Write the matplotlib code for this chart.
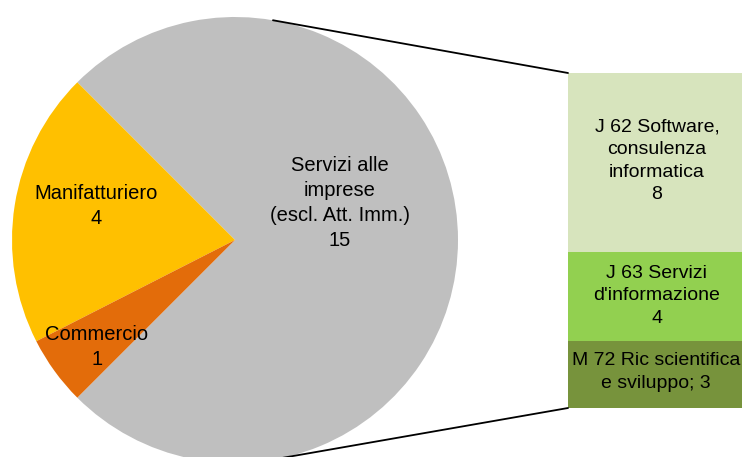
import matplotlib.pyplot as plt
from matplotlib.patches import ConnectionPatch
import numpy as np

plt.rcParams['font.family'] = ['Liberation Sans', 'DejaVu Sans']

# pie data
pie_labels = ["Servizi alle\nimprese\n(escl. Att. Imm.)", "Manifatturiero", "Commercio"]
pie_values = [15, 4, 1]
pie_colors = ["#BFBFBF", "#FFC000", "#E36C0A"]

# bar breakdown of "Servizi alle imprese" (bottom to top)
bar_labels = ["M 72 Ric scientifica\ne sviluppo; 3", "J 63 Servizi\nd'informazione\n4", "J 62 Software,\nconsulenza\ninformatica\n8"]
bar_values = [3, 4, 8]
bar_colors = ["#77933C", "#92D050", "#D7E4BD"]

W, H = 742, 457
fig = plt.figure(figsize=(W / 100, H / 100), dpi=100)

# pie: center (235, 240) px, radius 223 px
cx, cy, r = 235, 240, 223
ax_pie = fig.add_axes([(cx - r) / W, (H - cy - r) / H, 2 * r / W, 2 * r / H])
wedges, _ = ax_pie.pie(pie_values, colors=pie_colors, startangle=-135,
                       counterclock=True, radius=1)
ax_pie.set_xlim(-1, 1)
ax_pie.set_ylim(-1, 1)
ax_pie.set_axis_off()

def pie_xy(px, py):
    return (px - cx) / r, (cy - py) / r

label_pos = [(340, 203), (96, 206), (97, 347)]
for lab, v, (px, py) in zip(pie_labels, pie_values, label_pos):
    ax_pie.text(*pie_xy(px, py), f"{lab}\n{v}", ha="center", va="center",
                fontsize=14.5, linespacing=1.42)

# bar
bx0, bx1, by0, by1 = 568, 742, 408, 73
ax_bar = fig.add_axes([bx0 / W, (H - by0) / H, (bx1 - bx0) / W, (by0 - by1) / H])
bottom = 0
for lab, v, c in zip(bar_labels, bar_values, bar_colors):
    ax_bar.bar(0, v, width=1, bottom=bottom, color=c)
    bottom += v
ax_bar.set_xlim(-0.5, 0.5)
ax_bar.set_ylim(0, sum(bar_values))
ax_bar.set_axis_off()

def bar_xy(px, py):
    return (px - bx0) / (bx1 - bx0) - 0.5, (by0 - py) / (by0 - by1) * sum(bar_values)

bar_pos = [(656, 372), (657, 296), (657, 161)]
for lab, (px, py) in zip(bar_labels, bar_pos):
    ax_bar.text(*bar_xy(px, py), lab, ha="center", va="center",
                fontsize=14, linespacing=1.42)

# connector lines
for ang, yb in [(80.2, sum(bar_values)), (-77.6, 0)]:
    a = np.deg2rad(ang)
    con = ConnectionPatch(xyA=(np.cos(a), np.sin(a)), coordsA=ax_pie.transData,
                          xyB=(-0.5, yb), coordsB=ax_bar.transData,
                          color="black", lw=1.3)
    fig.add_artist(con)

fig.savefig("out.png", dpi=100)
